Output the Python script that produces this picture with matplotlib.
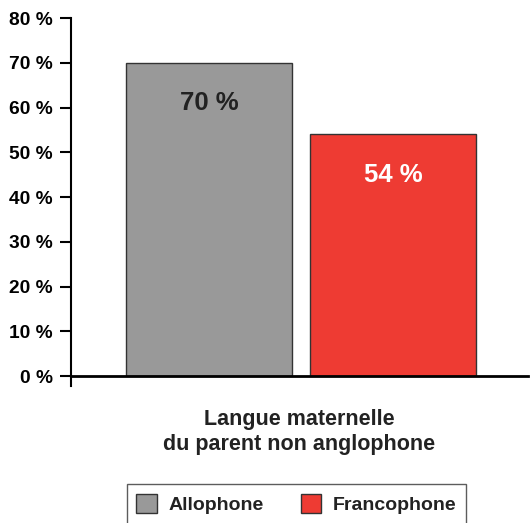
import matplotlib
matplotlib.use("Agg")
import matplotlib.pyplot as plt
from matplotlib.patches import Patch

# data
categories = ["Allophone", "Francophone"]
values = [70, 54]
colors = ["#999999", "#ee3b33"]
label_colors = ["#222222", "#ffffff"]
yticks = [0, 10, 20, 30, 40, 50, 60, 70, 80]
xlabel = "Langue maternelle\ndu parent non anglophone"

plt.rcParams['font.family'] = ['Liberation Sans', 'DejaVu Sans']
plt.rcParams['font.weight'] = 'bold'

fig = plt.figure(figsize=(5.3, 5.23), dpi=100)
ax = fig.add_axes([0.134, 0.281, 0.862, 0.6845])

x = list(range(len(categories)))
bars = ax.bar(x, values, width=0.9, color=colors, edgecolor="#333333", linewidth=1)

for bar, v, c in zip(bars, values, label_colors):
    ax.text(bar.get_x() + bar.get_width() / 2, v - 9, f"{v} %",
            ha="center", va="center", fontsize=18.5, fontweight="bold", color=c)

ax.set_xlim(-0.75, 1.734)
ax.set_ylim(0, 80)
ax.set_yticks(yticks)
ax.set_yticklabels([f"{t} %" for t in yticks], fontsize=13.8, fontweight="bold")
ax.set_xticks([])
ax.tick_params(axis="y", length=8, width=1.5, pad=5)

ax.spines["top"].set_visible(False)
ax.spines["right"].set_visible(False)
ax.spines["left"].set_linewidth(1.5)
ax.spines["bottom"].set_linewidth(2)
ax.spines["left"].set_bounds(-2.3, 80)

ax.set_xlabel(xlabel, fontsize=15.5, fontweight="bold", labelpad=24, linespacing=1.2,
              color="#222222")

handles = [Patch(facecolor=c, edgecolor="#333333", label=l) for c, l in zip(colors, categories)]
leg = fig.legend(handles=handles, loc="lower center", bbox_to_anchor=(0.559, -0.02),
                 ncol=2, frameon=True, fancybox=False,
                 handlelength=1.05, handleheight=1.1, columnspacing=1.9,
                 handletextpad=0.6, borderpad=0.5,
                 prop={'weight': 'bold', 'size': 14})
leg.get_frame().set_edgecolor("#333333")
leg.get_frame().set_linewidth(1)
for t in leg.get_texts():
    t.set_color("#222222")

fig.savefig("out.png", dpi=100)
